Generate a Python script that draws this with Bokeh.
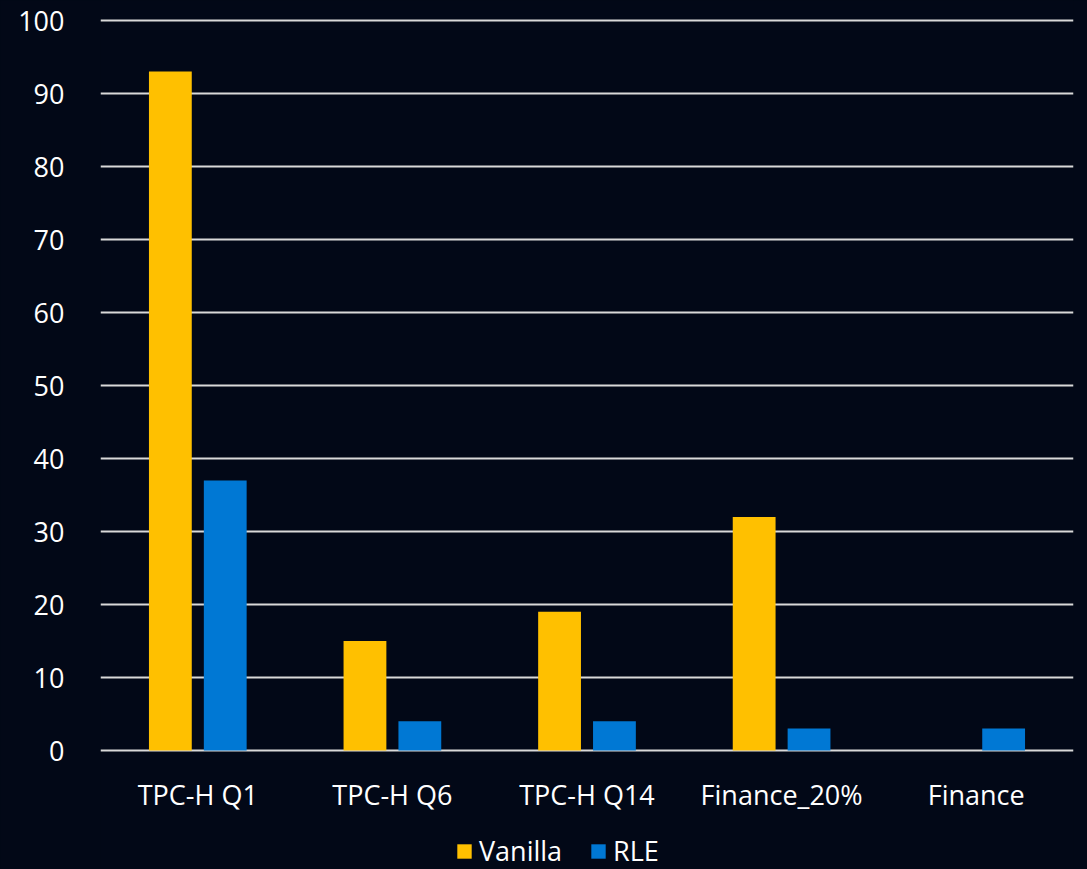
from bokeh.plotting import figure
from bokeh.models import ColumnDataSource, FactorRange, Legend, LegendItem, FixedTicker, Range1d
from bokeh.transform import dodge
from bokeh.core.properties import value
from bokeh.embed import file_html
from bokeh.resources import INLINE

categories = ["TPC-H Q1", "TPC-H Q6", "TPC-H Q14", "Finance_20%", "Finance"]
vanilla = [93, 15, 19, 32, 0]
rle = [37, 4, 4, 3, 3]
series_names = ["Vanilla", "RLE"]
colors = ["#FFC000", "#0078D4"]
y_ticks = [0, 10, 20, 30, 40, 50, 60, 70, 80, 90, 100]

src = ColumnDataSource(dict(cat=categories, vanilla=vanilla, rle=rle))

BG = "#020817"
FONT = "Open Sans"
H = 869
TOP = 20      # px from top to value 100
BASE = 750    # px from top to value 0
ppu = (BASE - TOP) / 100.0
y_lo = -(H - BASE) / ppu
y_hi = 100 + TOP / ppu

p = figure(x_range=FactorRange(*categories, range_padding=0), y_range=Range1d(y_lo, y_hi),
           width=1087, height=H, output_backend="svg", toolbar_location=None,
           background_fill_color=BG, border_fill_color=BG, outline_line_color=None,
           min_border_left=100, min_border_right=14, min_border_top=0, min_border_bottom=0)
p.styles = {"background-color": BG}

r1 = p.vbar(x=dodge("cat", -0.141, range=p.x_range), top="vanilla", width=0.22, source=src,
            fill_color=colors[0], line_color=None)
r2 = p.vbar(x=dodge("cat", 0.141, range=p.x_range), top="rle", width=0.22, source=src,
            fill_color=colors[1], line_color=None)

# category labels under the baseline
p.text(x="cat", y=0, text="cat", source=src, y_offset=44, text_align="center",
       text_baseline="middle", text_color="#FFFFFF", text_font=value(FONT),
       text_font_size="27px")

p.xaxis.visible = False
p.xgrid.grid_line_color = None
p.yaxis.ticker = FixedTicker(ticks=y_ticks)
p.ygrid.grid_line_color = "#D9D9D9"
p.ygrid.grid_line_width = 2

p.yaxis.axis_line_color = None
p.yaxis.major_tick_line_color = None
p.yaxis.minor_tick_line_color = None
p.yaxis.major_label_text_color = "#FFFFFF"
p.yaxis.major_label_text_font = FONT
p.yaxis.major_label_text_font_size = "27px"
p.yaxis.major_label_standoff = 30

legend = Legend(items=[LegendItem(label=series_names[0], renderers=[r1]),
                       LegendItem(label=series_names[1], renderers=[r2])],
                orientation="horizontal", location=(355, 0),
                background_fill_alpha=0, border_line_color=None,
                label_text_color="#FFFFFF", label_text_font=FONT, label_text_font_size="27px",
                glyph_width=18, glyph_height=18, label_standoff=6, spacing=27, padding=0, margin=0)
p.add_layout(legend, "center")

open("out.html", "w").write(file_html(p, INLINE))
